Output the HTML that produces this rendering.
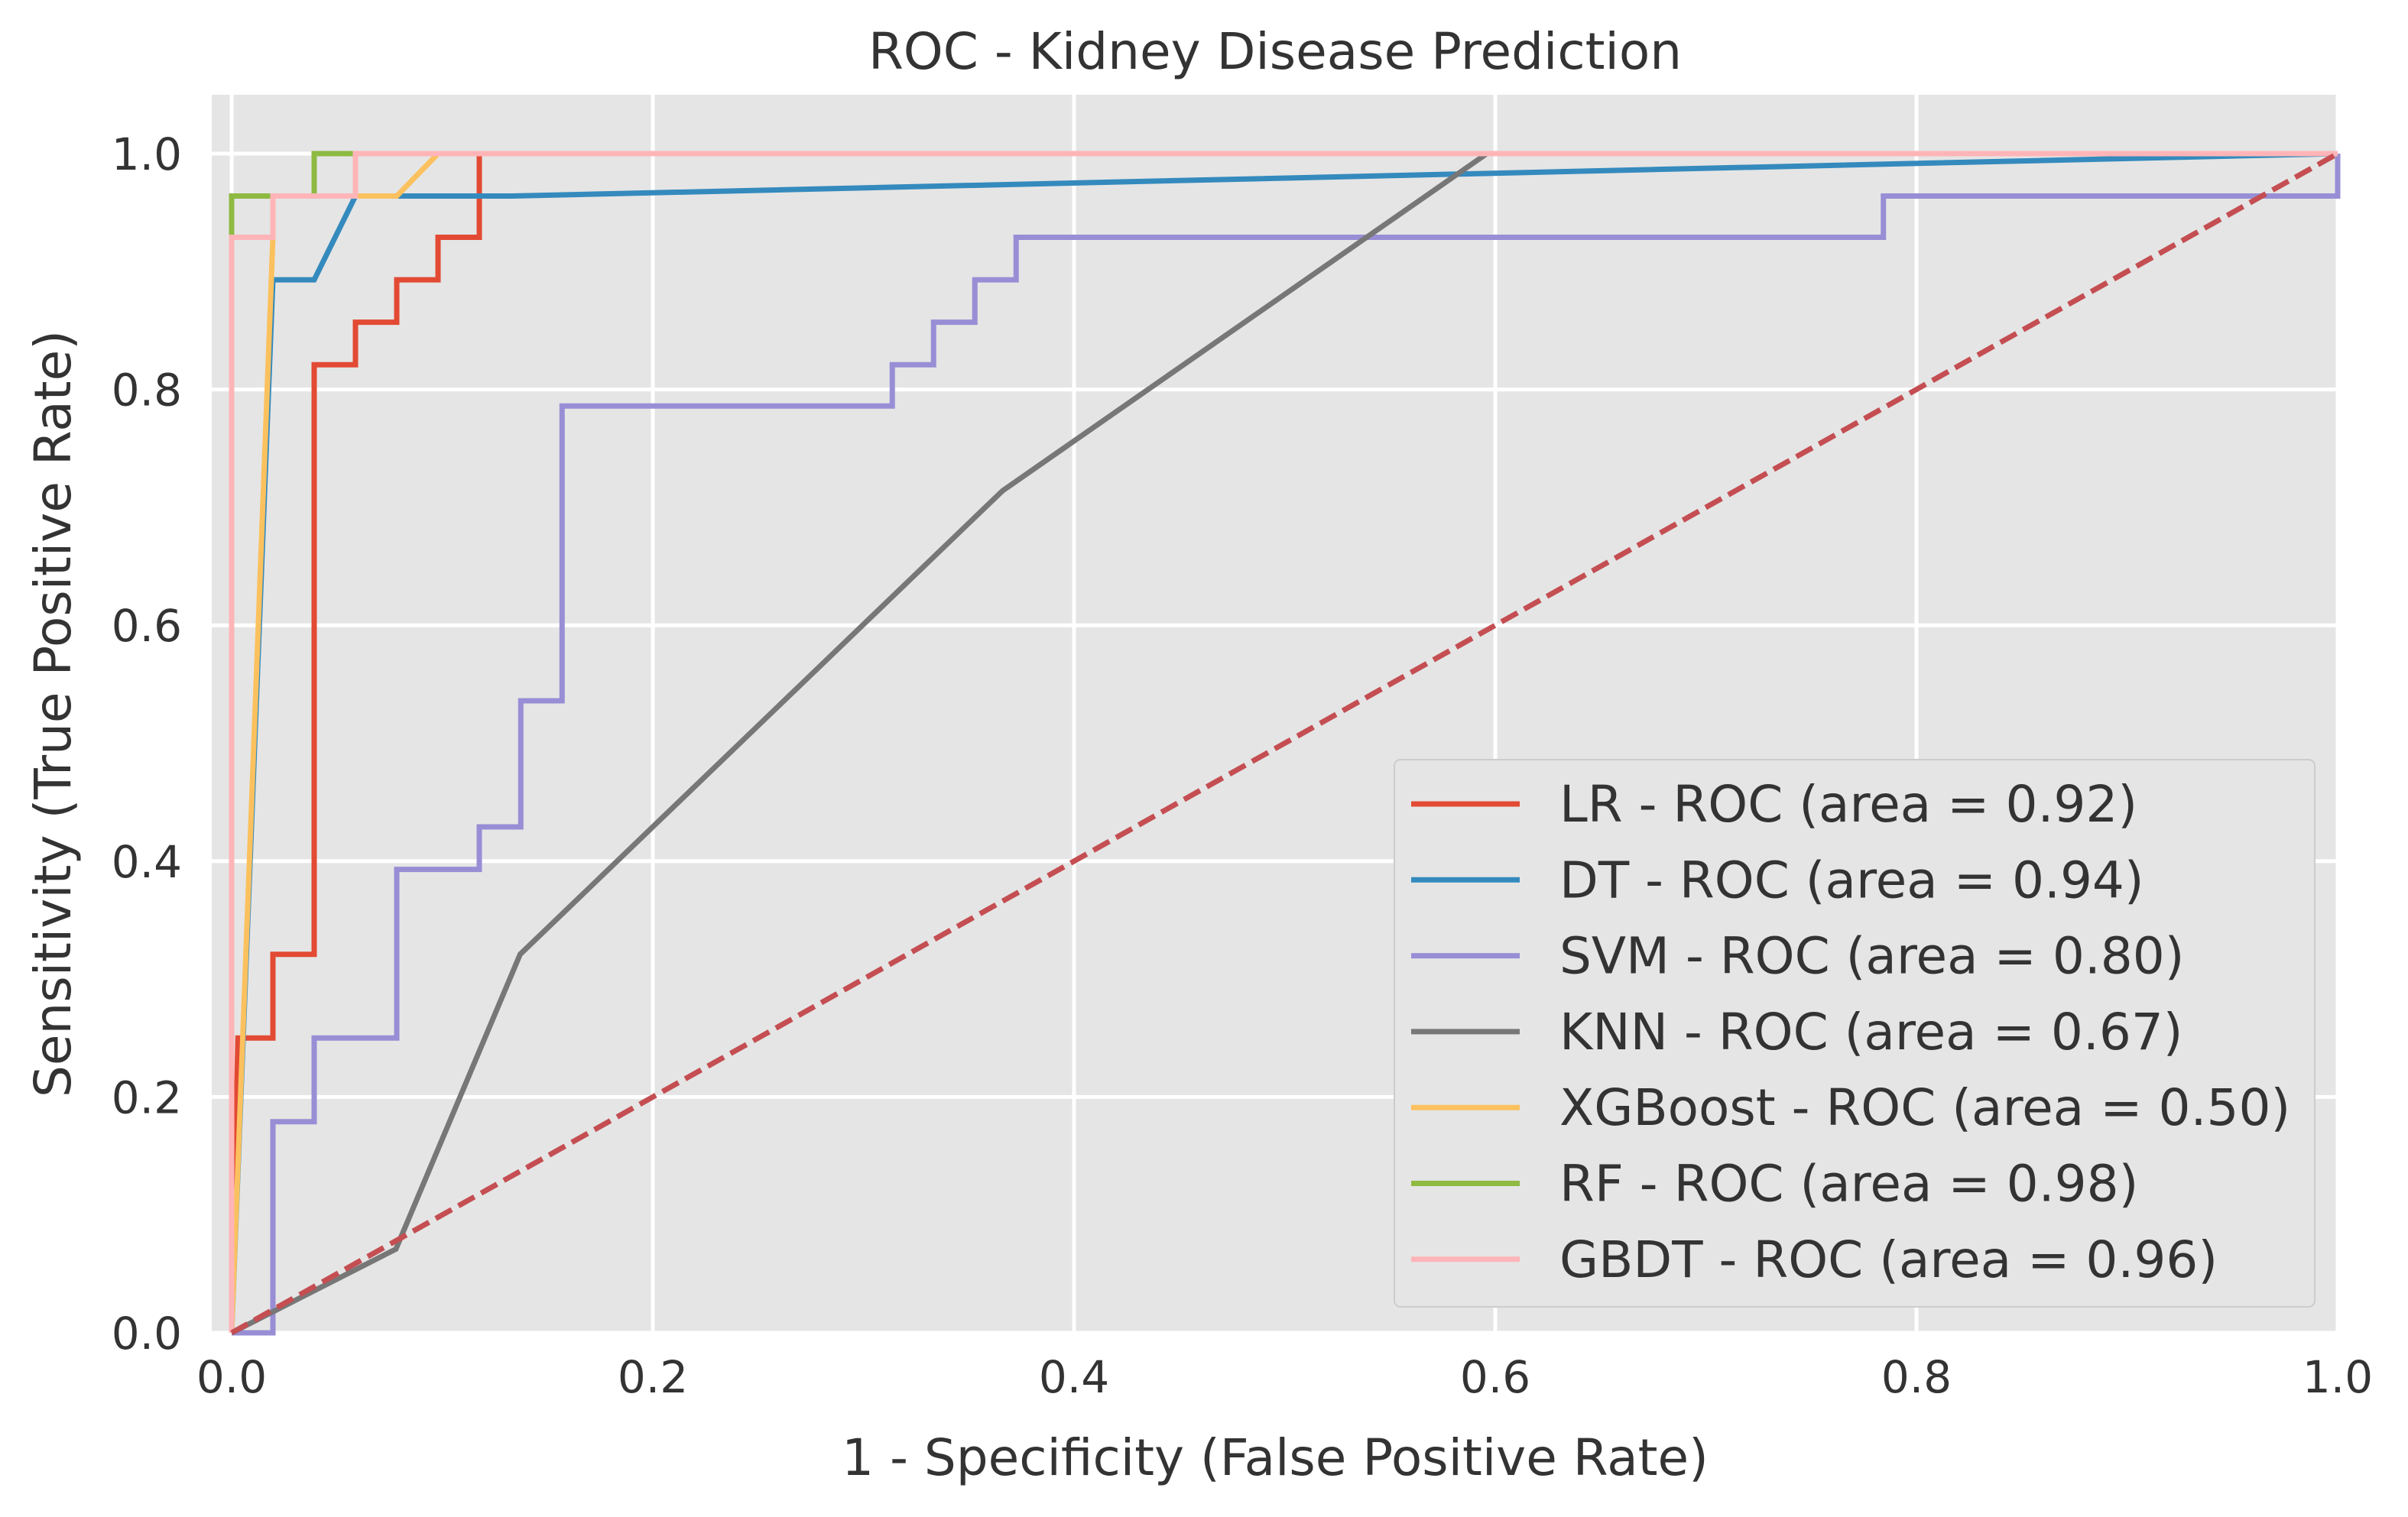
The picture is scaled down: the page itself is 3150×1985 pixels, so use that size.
<!DOCTYPE html>
<html><head><meta charset="utf-8"><style>
html,body{margin:0;padding:0;background:#fff}
svg{display:block}
text{font-family:"DejaVu Sans","Liberation Sans",sans-serif;fill:#333}
</style></head><body>
<svg id="chart" width="3150" height="1985" viewBox="0 0 3150 1985">
<rect x="277" y="124" width="2781" height="1620" fill="#e5e5e5"/>
<g id="grid"></g><g id="series"></g><g id="ticks"></g>
<text x="1668" y="90" font-size="66" text-anchor="middle" fill="#222">ROC - Kidney Disease Prediction</text>
<text x="1668" y="1930" font-size="66" text-anchor="middle" fill="#555">1 - Specificity (False Positive Rate)</text>
<text x="92" y="934" font-size="66" text-anchor="middle" fill="#555" transform="rotate(-90 92 934)">Sensitivity (True Positive Rate)</text>
<g id="legend"></g>
</svg>
<script>
const xTicks=[0,0.2,0.4,0.6,0.8,1.0];
const yTicks=[0,0.2,0.4,0.6,0.8,1.0];
const tickLabels=["0.0","0.2","0.4","0.6","0.8","1.0"];
const seriesNames=["LR - ROC (area = 0.92)","DT - ROC (area = 0.94)","SVM - ROC (area = 0.80)","KNN - ROC (area = 0.67)","XGBoost - ROC (area = 0.50)","RF - ROC (area = 0.98)","GBDT - ROC (area = 0.96)"];
const seriesColors=["#E24A33","#348ABD","#988ED5","#777777","#FBC15E","#8EBA42","#FFB5B8"];
const lrFpr=[0,0.003,0.0196,0.0196,0.0392,0.0392,0.0588,0.0588,0.0784,0.0784,0.098,0.098,0.1176,0.1176,1];
const lrTpr=[0,0.25,0.25,0.321,0.321,0.821,0.821,0.857,0.857,0.893,0.893,0.929,0.929,1,1];
const dtFpr=[0,0.0196,0.0392,0.0588,0.133,1];
const dtTpr=[0,0.893,0.893,0.964,0.964,1];
const svmFpr=[0,0.0196,0.0196,0.0392,0.0392,0.0784,0.0784,0.1176,0.1176,0.1373,0.1373,0.1569,0.1569,0.3137,0.3137,0.3333,0.3333,0.3529,0.3529,0.3725,0.3725,0.7843,0.7843,1,1];
const svmTpr=[0,0,0.179,0.179,0.25,0.25,0.393,0.393,0.429,0.429,0.536,0.536,0.786,0.786,0.821,0.821,0.857,0.857,0.893,0.893,0.929,0.929,0.964,0.964,1];
const knnFpr=[0,0.078,0.137,0.366,0.596,1];
const knnTpr=[0,0.071,0.321,0.714,1,1];
const xgbFpr=[0,0.0196,0.0196,0.0784,0.098,1];
const xgbTpr=[0,0.929,0.964,0.964,1,1];
const rfFpr=[0,0,0.0196,0.0392,0.0392,1];
const rfTpr=[0,0.964,0.964,0.964,1,1];
const gbdtFpr=[0,0,0.0196,0.0196,0.0588,0.0588,1];
const gbdtTpr=[0,0.929,0.929,0.964,0.964,1,1];
const allFpr=[lrFpr,dtFpr,svmFpr,knnFpr,xgbFpr,rfFpr,gbdtFpr];
const allTpr=[lrTpr,dtTpr,svmTpr,knnTpr,xgbTpr,rfTpr,gbdtTpr];
const seriesKeys=["lr","dt","svm","knn","xgboost","rf","gbdt"];
const diagX=[0,1], diagY=[0,1];

const NS="http://www.w3.org/2000/svg";
const X0=303, XS=2755, Y0=1744, YS=1543;
const sx=v=>X0+v*XS, sy=v=>Y0-v*YS;
function mk(tag,attrs,parent){const e=document.createElementNS(NS,tag);for(const k in attrs)e.setAttribute(k,attrs[k]);parent.appendChild(e);return e;}
const grid=document.getElementById('grid'), ticks=document.getElementById('ticks'), ser=document.getElementById('series'), leg=document.getElementById('legend');
xTicks.forEach((v,i)=>{
  const l=mk('line',{x1:sx(v),x2:sx(v),y1:124,y2:1744,stroke:'#fff','stroke-width':5},grid);
  
  
  const t=mk('text',{x:sx(v),y:1822,'font-size':58,'text-anchor':'middle',fill:'#555'},ticks);
  t.textContent=tickLabels[i];
  
  
});
yTicks.forEach((v,i)=>{
  const l=mk('line',{x1:277,x2:3058,y1:sy(v),y2:sy(v),stroke:'#fff','stroke-width':5},grid);
  
  
  const t=mk('text',{x:238,y:sy(v)+21,'font-size':58,'text-anchor':'end',fill:'#555'},ticks);
  t.textContent=tickLabels[i];
  
  
});
allFpr.forEach((fx,i)=>{
  const pts=fx.map((v,j)=>sx(v)+','+sy(allTpr[i][j])).join(' ');
  const p=mk('polyline',{points:pts,fill:'none',stroke:seriesColors[i],'stroke-width':7,'stroke-linejoin':'miter'},ser);
  
  
});
const d=mk('polyline',{points:diagX.map((v,j)=>sx(v)+','+sy(diagY[j])).join(' '),fill:'none',stroke:'#C44E52','stroke-width':7,'stroke-dasharray':'24 10'},ser);


const box=mk('rect',{x:1824,y:994,width:1204,height:716,rx:8,fill:'#e5e5e5',stroke:'#cccccc','stroke-width':2},leg);


seriesNames.forEach((n,i)=>{
  const y=1052+i*99.3;
  const g=mk('g',{},leg);
  
  
  mk('line',{x1:1846,x2:1988,y1:y,y2:y,stroke:seriesColors[i],'stroke-width':7},g);
  const t=mk('text',{x:2040,y:y+23,'font-size':66,fill:'#222'},g);
  t.textContent=n;
});
</script>
</body></html>
